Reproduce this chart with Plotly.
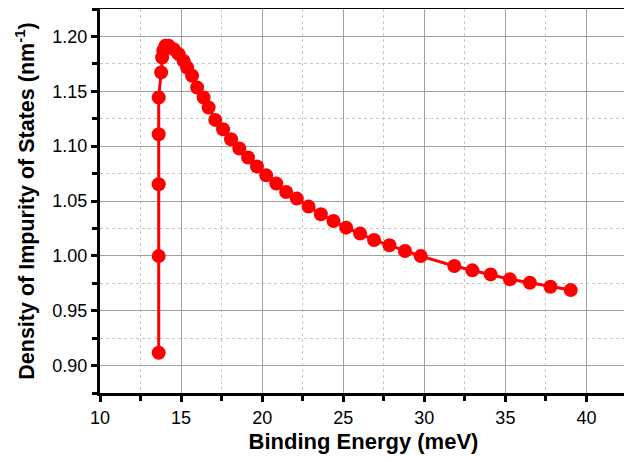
import plotly.graph_objects as go

# Binding energy (meV)
binding_energy = [13.62, 13.62, 13.62, 13.62, 13.62, 13.77, 13.83, 13.90, 14.03, 14.24,
                  14.54, 14.85, 15.16, 15.37, 15.68, 15.99, 16.39, 16.70, 17.11, 17.59,
                  18.08, 18.59, 19.13, 19.68, 20.25, 20.87, 21.48, 22.14, 22.86, 23.62,
                  24.40, 25.18, 26.04, 26.90, 27.85, 28.81, 29.78, 31.85, 32.96, 34.09,
                  35.28, 36.51, 37.78, 39.03]
# Density of impurity of states (nm^-1)
density = [0.9117, 0.9998, 1.0652, 1.1109, 1.1443, 1.1672, 1.1808, 1.1870, 1.1914, 1.1914,
           1.1884, 1.1839, 1.1777, 1.1717, 1.1641, 1.1535, 1.1443, 1.1352, 1.1239, 1.1154,
           1.1063, 1.0978, 1.0896, 1.0814, 1.0734, 1.0659, 1.0582, 1.0522, 1.0449, 1.0379,
           1.0318, 1.0257, 1.0203, 1.0144, 1.0096, 1.0044, 0.9998, 0.9907, 0.9868, 0.9831,
           0.9786, 0.9755, 0.9719, 0.9688]

x_ticks = [10, 15, 20, 25, 30, 35, 40]
y_ticks = [0.90, 0.95, 1.00, 1.05, 1.10, 1.15, 1.20]
y_tick_labels = ["0.90", "0.95", "1.00", "1.05", "1.10", "1.15", "1.20"]

FONT = "Liberation Sans, Arial"

fig = go.Figure()
fig.add_trace(go.Scatter(
    x=binding_energy, y=density, mode="lines+markers",
    line=dict(color="#ff0000", width=3),
    marker=dict(color="#ff0000", size=14, line=dict(width=0)),
    showlegend=False,
))

axis_common = dict(
    showline=True, linecolor="black", linewidth=3, mirror=True,
    ticks="outside", ticklen=6, tickwidth=2.5, tickcolor="black",
    showgrid=True, gridcolor="#a0a0a0", gridwidth=1,
    zeroline=False, automargin=False,
    tickfont=dict(family=FONT, size=18, color="black"),
)

fig.update_xaxes(
    range=[10, 42.5], tickvals=x_ticks,
    minor=dict(dtick=2.5, tick0=10, ticks="outside", ticklen=5, tickwidth=2.5,
               tickcolor="black", showgrid=True, gridcolor="#c8c8c8",
               griddash="dot", gridwidth=1),
    title=dict(text="<b>Binding Energy (meV)</b>", standoff=8,
               font=dict(family=FONT, size=22, color="black")),
    **axis_common,
)
fig.update_yaxes(
    range=[0.875, 1.225], tickvals=y_ticks, ticktext=y_tick_labels,
    minor=dict(dtick=0.025, tick0=0.875, ticks="outside", ticklen=5, tickwidth=2.5,
               tickcolor="black", showgrid=True, gridcolor="#c8c8c8",
               griddash="dot", gridwidth=1),
    title=dict(text="<b>Density of Impurity of States (nm<sup>-1</sup>)</b>", standoff=12,
               font=dict(family=FONT, size=21.5, color="black")),
    **axis_common,
)

# page body has an 8px margin, so the figure is sized to fill the rest of the window
fig.update_layout(
    width=624, height=454,
    margin=dict(l=92, r=5, t=1, b=69),
    plot_bgcolor="white", paper_bgcolor="white",
)

fig.write_html("out.html")
